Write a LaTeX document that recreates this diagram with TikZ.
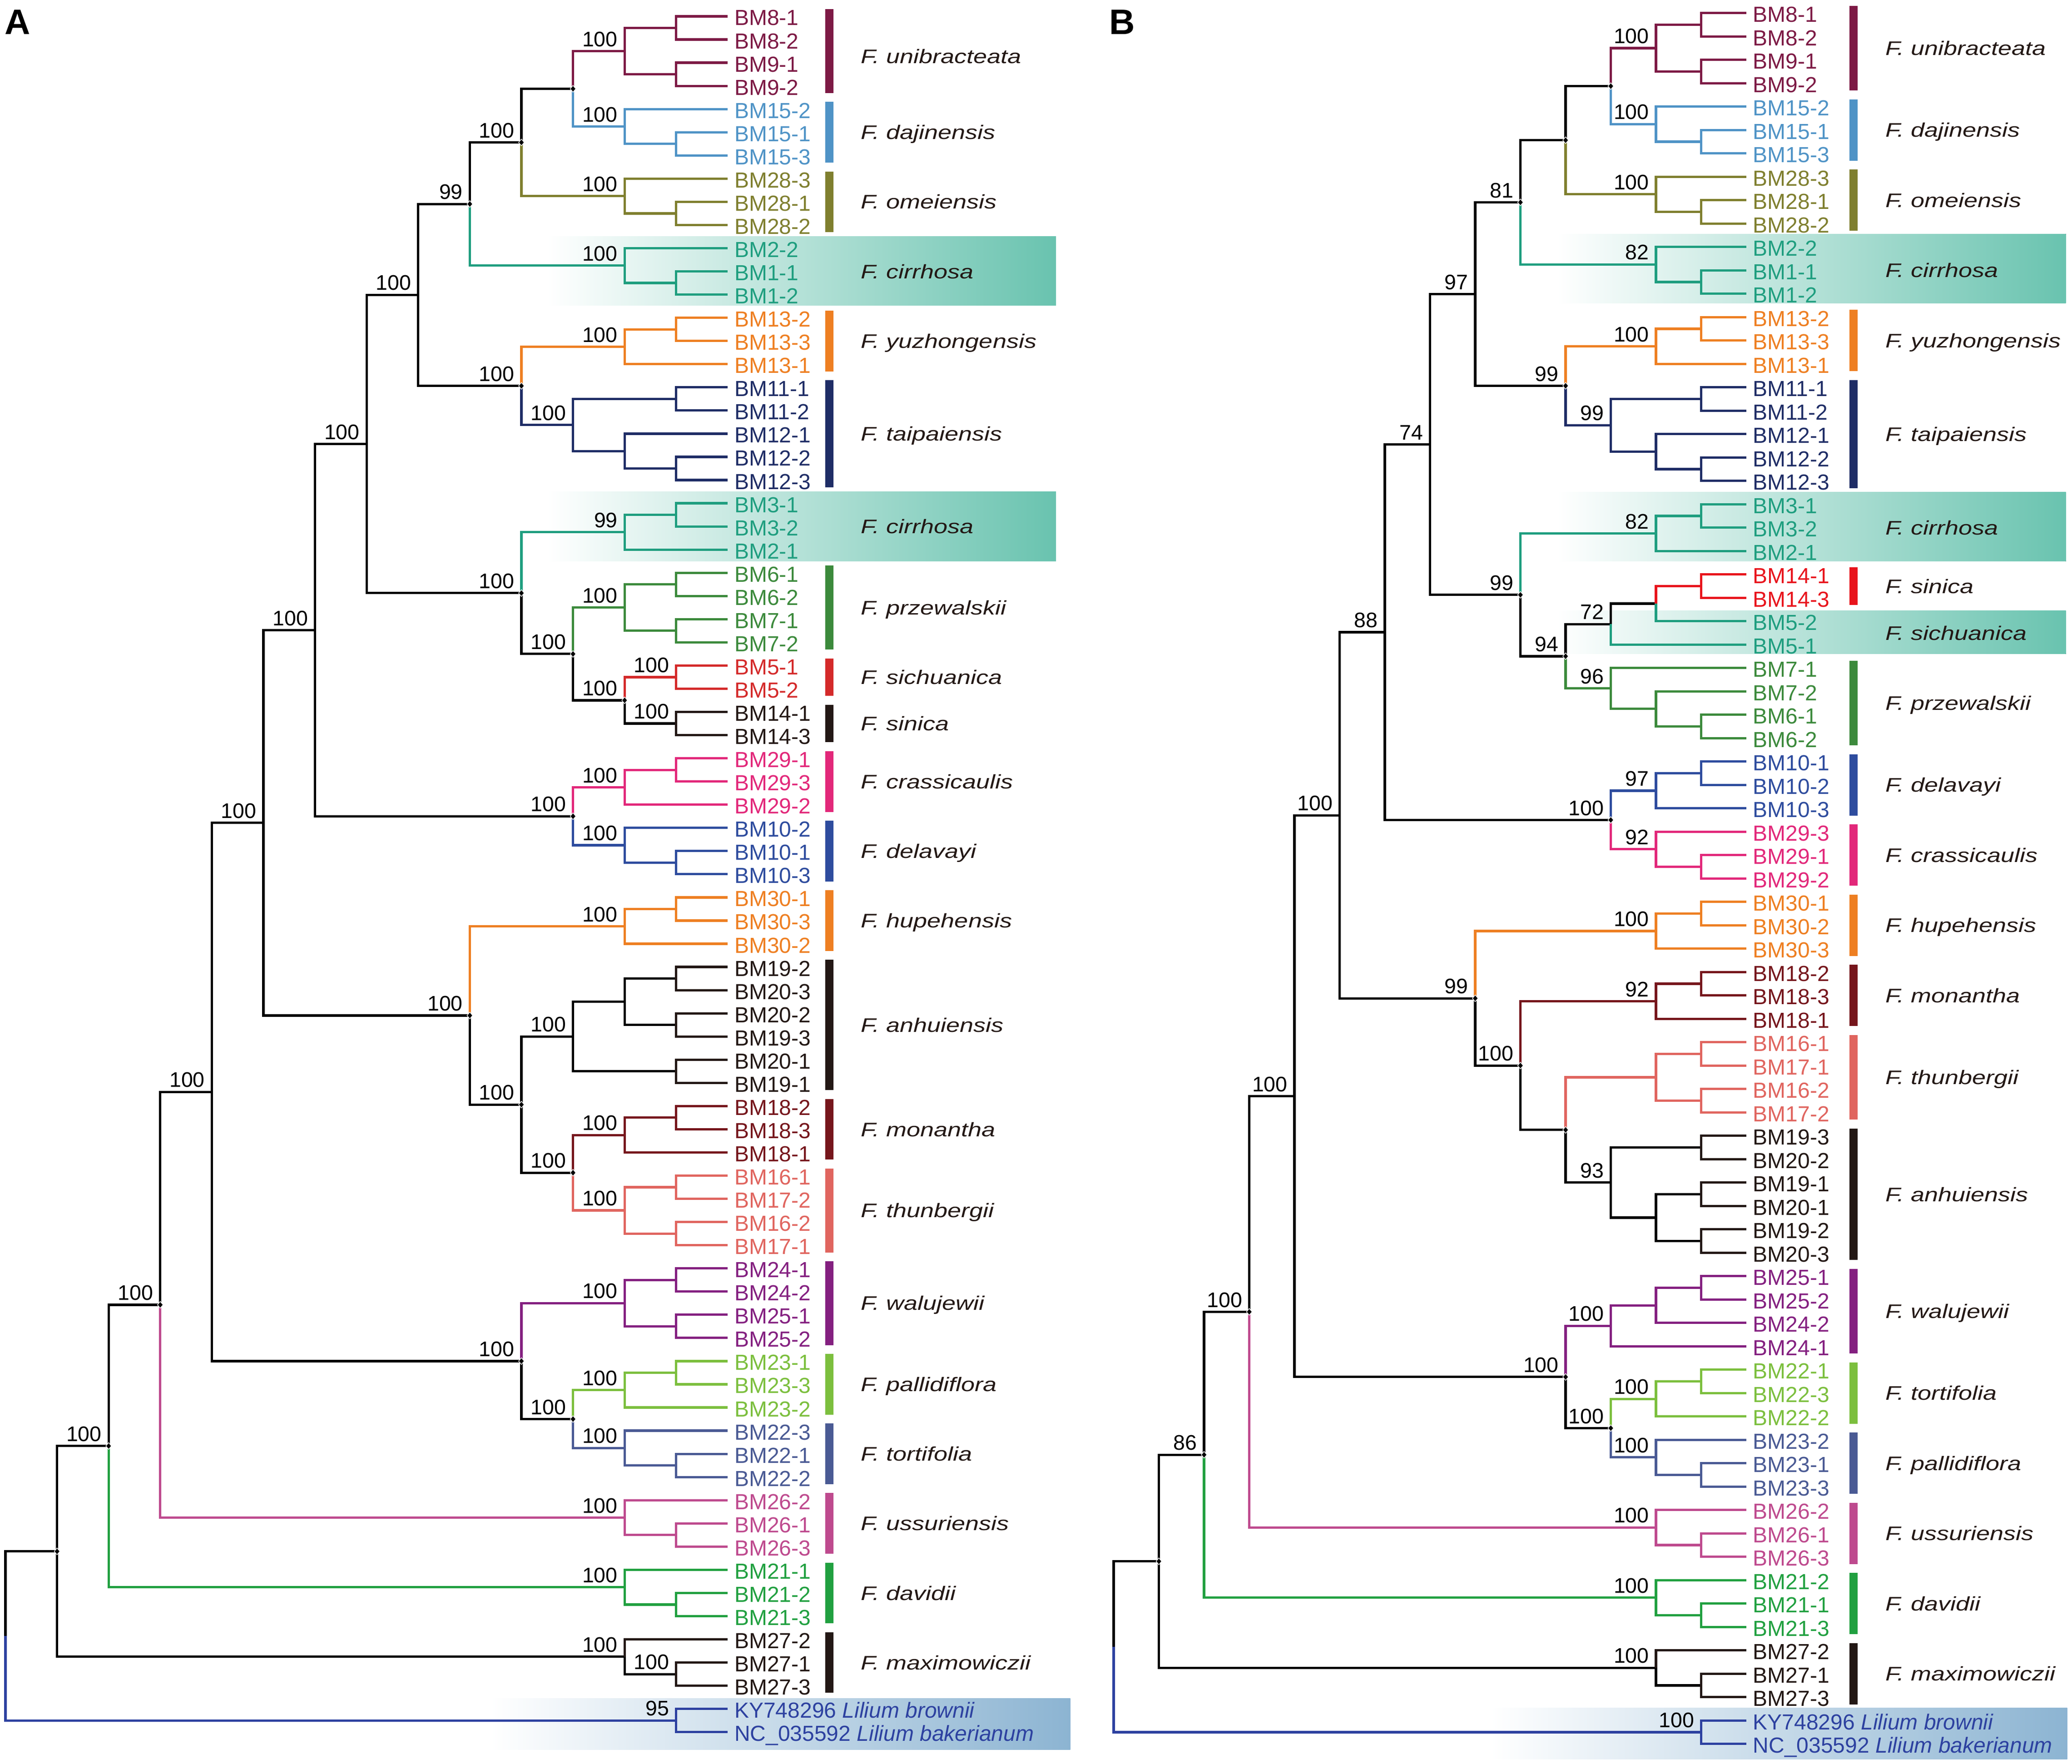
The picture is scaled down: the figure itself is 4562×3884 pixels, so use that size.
\documentclass[tikz,border=0pt]{standalone}
\usepackage{fontspec}
\setmainfont{Liberation Sans}
\newfontfamily\leaffont{Liberation Sans}
\newfontfamily\spfont{Liberation Sans}[FakeStretch=1.25]
\newfontfamily\bsfont{Liberation Sans}
\usetikzlibrary{shapes.geometric}
\definecolor{cUni}{HTML}{7D1A45}
\definecolor{cDaj}{HTML}{4F93C6}
\definecolor{cOme}{HTML}{7F7F2F}
\definecolor{cCir}{HTML}{1F9E7F}
\definecolor{cOra}{HTML}{EE7F22}
\definecolor{cNav}{HTML}{1F2D66}
\definecolor{cPrz}{HTML}{3C8A3C}
\definecolor{cRedA}{HTML}{D42A2A}
\definecolor{cRedB}{HTML}{E8141C}
\definecolor{cBlk}{HTML}{231815}
\definecolor{cCra}{HTML}{E2287A}
\definecolor{cDel}{HTML}{2E4C9E}
\definecolor{cMon}{HTML}{76161C}
\definecolor{cThu}{HTML}{E0655F}
\definecolor{cWal}{HTML}{842080}
\definecolor{cLgr}{HTML}{7CBF3E}
\definecolor{cSla}{HTML}{4A5A94}
\definecolor{cUss}{HTML}{BE4A8E}
\definecolor{cDav}{HTML}{21A040}
\definecolor{cLil}{HTML}{2D41A0}
\definecolor{bandT}{HTML}{69C3AF}
\definecolor{bandL}{HTML}{8CB4D2}
\tikzset{
  br/.style={line width=1.3pt},
  leaflab/.style={anchor=base west, inner sep=0pt, xshift=3.5pt, yshift=-5pt,
    font=\leaffont\fontsize{12}{13}\selectfont},
  bs/.style={anchor=base east, inner sep=0pt, xshift=-3.7pt, yshift=2.6pt,
    font=\bsfont\fontsize{11.6}{13}\selectfont, text=black},
  spname/.style={anchor=base west, inner sep=0pt, yshift=-3.9pt,
    font=\spfont\itshape\fontsize{10.8}{13}\selectfont, text=cBlk},
  sbar/.style={line width=4.35pt},
  mk/.style={diamond, fill=black, draw=white, line width=0.3pt, inner sep=0pt,
    minimum width=3.2pt, minimum height=3.8pt},
  plab/.style={anchor=base west, inner sep=0pt, font=\bfseries\fontsize{19.5}{20}\selectfont}
}
\newcommand\tNd[5]{\coordinate (#1) at (#2,#3); \draw[br,#5] (#4) |- (#1);}
\newcommand\tLf[5]{\coordinate (#1) at (14,#2); \draw[br,#4] (#3) |- (#1);
  \node[leaflab,text=#4] (#1t) at (#1) {#5};}
\newcommand\tBs[2]{\node[bs] (#1bs) at (#1) {#2};}
\newcommand\tMk[1]{\node[mk] (#1mk) at (#1) {};}
\newcommand\SnA[3]{\node[spname] (#1) at (16.576,#2) {#3};}
\newcommand\SnB[3]{\node[spname] (#1) at (17.075,#2) {#3};}
\newcommand\SbA[3]{\draw[sbar,#3] (15.968,{#1-0.31}) -- (15.968,{#2+0.31});}
\newcommand\SbB[3]{\draw[sbar,#3] (16.372,{#1-0.31}) -- (16.372,{#2+0.31});}
\begin{document}
\begin{tikzpicture}[x=0.25pt,y=-0.25pt]
\fill[white] (0,0) rectangle (4562,3884);
\useasboundingbox (0,0) rectangle (4562,3884);
\node[plab] (panelA) at (10,76) {A};
\node[plab] (panelB) at (2442,76) {B};
%% ================= TREE A =================
\begin{scope}[shift={(3pt,-9pt)}, x=28.4pt, y=-12.7625pt]
\fill[left color=white, right color=bandT] (10.51,9.5) rectangle (20.36,12.47);
\fill[left color=white, right color=bandT] (10.51,20.5) rectangle (20.36,23.5);
\fill[left color=white, right color=bandL] (9.4,72.55) rectangle (20.64,74.75);
\coordinate (Aroot) at (0,69.8526);
\tNd{An43}{1}{66.2052}{Aroot}{black}
\tNd{Alil}{13}{73.5}{Aroot}{cLil}
\tLf{Al73}{73}{Alil}{cLil}{KY748296 \textit{Lilium brownii}}
\tLf{Al74}{74}{Alil}{cLil}{NC\_035592 \textit{Lilium bakerianum}}
\tNd{An82}{2}{61.6604}{An43}{black}
\tNd{Amax}{12}{70.75}{An43}{black}
\tLf{Al70}{70}{Amax}{cBlk}{BM27-2}
\tNd{Amx1}{13}{71.5}{Amax}{black}
\tLf{Al71}{71}{Amx1}{cBlk}{BM27-1}
\tLf{Al72}{72}{Amx1}{cBlk}{BM27-3}
\tNd{An121}{3}{55.5708}{An82}{black}
\tNd{Adav}{12}{67.75}{An82}{cDav}
\tLf{Al67}{67}{Adav}{cDav}{BM21-1}
\tNd{Adv1}{13}{68.5}{Adav}{cDav}
\tLf{Al68}{68}{Adv1}{cDav}{BM21-2}
\tLf{Al69}{69}{Adv1}{cDav}{BM21-3}
\tNd{An160}{4}{46.3916}{An121}{black}
\tNd{Auss}{12}{64.75}{An121}{cUss}
\tLf{Al64}{64}{Auss}{cUss}{BM26-2}
\tNd{Au1}{13}{65.5}{Auss}{cUss}
\tLf{Al65}{65}{Au1}{cUss}{BM26-1}
\tLf{Al66}{66}{Au1}{cUss}{BM26-3}
\tNd{An199}{5}{34.7832}{An160}{black}
\tNd{Awpt}{10}{58}{An160}{black}
\tNd{Awal}{12}{55.5}{Awpt}{cWal}
\tNd{Aw1}{13}{54.5}{Awal}{cWal}
\tLf{Al54}{54}{Aw1}{cWal}{BM24-1}
\tLf{Al55}{55}{Aw1}{cWal}{BM24-2}
\tNd{Aw2}{13}{56.5}{Awal}{cWal}
\tLf{Al56}{56}{Aw2}{cWal}{BM25-1}
\tLf{Al57}{57}{Aw2}{cWal}{BM25-2}
\tNd{Apt}{11}{60.5}{Awpt}{black}
\tNd{Apal}{12}{59.25}{Apt}{cLgr}
\tNd{Apa1}{13}{58.5}{Apal}{cLgr}
\tLf{Al58}{58}{Apa1}{cLgr}{BM23-1}
\tLf{Al59}{59}{Apa1}{cLgr}{BM23-3}
\tLf{Al60}{60}{Apal}{cLgr}{BM23-2}
\tNd{Ator}{12}{61.75}{Apt}{cSla}
\tLf{Al61}{61}{Ator}{cSla}{BM22-3}
\tNd{Ato1}{13}{62.5}{Ator}{cSla}
\tLf{Al62}{62}{Ato1}{cSla}{BM22-1}
\tLf{Al63}{63}{Ato1}{cSla}{BM22-2}
\tNd{An238}{6}{26.4727}{An199}{black}
\tNd{Ahamt}{9}{43.09375}{An199}{black}
\tNd{Ahup}{12}{39.25}{Ahamt}{cOra}
\tNd{Ah1}{13}{38.5}{Ahup}{cOra}
\tLf{Al38}{38}{Ah1}{cOra}{BM30-1}
\tLf{Al39}{39}{Ah1}{cOra}{BM30-3}
\tLf{Al40}{40}{Ahup}{cOra}{BM30-2}
\tNd{Aamt}{10}{46.9375}{Ahamt}{black}
\tNd{Aanh}{11}{44}{Aamt}{black}
\tNd{Aan3}{12}{42.5}{Aanh}{black}
\tNd{Aan1}{13}{41.5}{Aan3}{black}
\tLf{Al41}{41}{Aan1}{cBlk}{BM19-2}
\tLf{Al42}{42}{Aan1}{cBlk}{BM20-3}
\tNd{Aan2}{13}{43.5}{Aan3}{black}
\tLf{Al43}{43}{Aan2}{cBlk}{BM20-2}
\tLf{Al44}{44}{Aan2}{cBlk}{BM19-3}
\tNd{Aan4}{13}{45.5}{Aanh}{black}
\tLf{Al45}{45}{Aan4}{cBlk}{BM20-1}
\tLf{Al46}{46}{Aan4}{cBlk}{BM19-1}
\tNd{Amt}{11}{49.875}{Aamt}{black}
\tNd{Amon}{12}{48.25}{Amt}{cMon}
\tNd{Am1}{13}{47.5}{Amon}{cMon}
\tLf{Al47}{47}{Am1}{cMon}{BM18-2}
\tLf{Al48}{48}{Am1}{cMon}{BM18-3}
\tLf{Al49}{49}{Amon}{cMon}{BM18-1}
\tNd{Athu}{12}{51.5}{Amt}{cThu}
\tNd{Ath1}{13}{50.5}{Athu}{cThu}
\tLf{Al50}{50}{Ath1}{cThu}{BM16-1}
\tLf{Al51}{51}{Ath1}{cThu}{BM17-2}
\tNd{Ath2}{13}{52.5}{Athu}{cThu}
\tLf{Al52}{52}{Ath2}{cThu}{BM16-2}
\tLf{Al53}{53}{Ath2}{cThu}{BM17-1}
\tNd{An277}{7}{18.4453}{An238}{black}
\tNd{Acd}{11}{34.5}{An238}{black}
\tNd{Acra}{12}{33.25}{Acd}{cCra}
\tNd{Acr1}{13}{32.5}{Acra}{cCra}
\tLf{Al32}{32}{Acr1}{cCra}{BM29-1}
\tLf{Al33}{33}{Acr1}{cCra}{BM29-3}
\tLf{Al34}{34}{Acra}{cCra}{BM29-2}
\tNd{Adel}{12}{35.75}{Acd}{cDel}
\tLf{Al35}{35}{Adel}{cDel}{BM10-2}
\tNd{Ade1}{13}{36.5}{Adel}{cDel}
\tLf{Al36}{36}{Ade1}{cDel}{BM10-1}
\tLf{Al37}{37}{Ade1}{cDel}{BM10-3}
\tNd{An316}{8}{12.015625}{An277}{black}
\tNd{Acps}{10}{24.875}{An277}{black}
\tNd{Acir2}{12}{22.25}{Acps}{cCir}
\tNd{Ac2a}{13}{21.5}{Acir2}{cCir}
\tLf{Al21}{21}{Ac2a}{cCir}{BM3-1}
\tLf{Al22}{22}{Ac2a}{cCir}{BM3-2}
\tLf{Al23}{23}{Acir2}{cCir}{BM2-1}
\tNd{Apss}{11}{27.5}{Acps}{black}
\tNd{Aprz}{12}{25.5}{Apss}{cPrz}
\tNd{Ap1}{13}{24.5}{Aprz}{cPrz}
\tLf{Al24}{24}{Ap1}{cPrz}{BM6-1}
\tLf{Al25}{25}{Ap1}{cPrz}{BM6-2}
\tNd{Ap2}{13}{26.5}{Aprz}{cPrz}
\tLf{Al26}{26}{Ap2}{cPrz}{BM7-1}
\tLf{Al27}{27}{Ap2}{cPrz}{BM7-2}
\tNd{Ass}{12}{29.5}{Apss}{black}
\tNd{Asic}{13}{28.5}{Ass}{cRedA}
\tLf{Al28}{28}{Asic}{cRedA}{BM5-1}
\tLf{Al29}{29}{Asic}{cRedA}{BM5-2}
\tNd{Asin}{13}{30.5}{Ass}{black}
\tLf{Al30}{30}{Asin}{cBlk}{BM14-1}
\tLf{Al31}{31}{Asin}{cBlk}{BM14-3}
\tNd{An99}{9}{8.09375}{An316}{black}
\tNd{Ayt}{10}{15.9375}{An316}{black}
\tNd{Ayuz}{12}{14.25}{Ayt}{cOra}
\tNd{Ay1}{13}{13.5}{Ayuz}{cOra}
\tLf{Al13}{13}{Ay1}{cOra}{BM13-2}
\tLf{Al14}{14}{Ay1}{cOra}{BM13-3}
\tLf{Al15}{15}{Ayuz}{cOra}{BM13-1}
\tNd{Ataip}{11}{17.625}{Ayt}{cNav}
\tNd{At1}{13}{16.5}{Ataip}{cNav}
\tLf{Al16}{16}{At1}{cNav}{BM11-1}
\tLf{Al17}{17}{At1}{cNav}{BM11-2}
\tNd{At3}{12}{18.75}{Ataip}{cNav}
\tLf{Al18}{18}{At3}{cNav}{BM12-1}
\tNd{At2}{13}{19.5}{At3}{cNav}
\tLf{Al19}{19}{At2}{cNav}{BM12-2}
\tLf{Al20}{20}{At2}{cNav}{BM12-3}
\tNd{Audo}{10}{5.4375}{An99}{black}
\tNd{Acir1}{12}{10.75}{An99}{cCir}
\tLf{Al10}{10}{Acir1}{cCir}{BM2-2}
\tNd{Ac1}{13}{11.5}{Acir1}{cCir}
\tLf{Al11}{11}{Ac1}{cCir}{BM1-1}
\tLf{Al12}{12}{Ac1}{cCir}{BM1-2}
\tNd{Aud}{11}{3.125}{Audo}{black}
\tNd{Aome}{12}{7.75}{Audo}{cOme}
\tLf{Al7}{7}{Aome}{cOme}{BM28-3}
\tNd{Ao1}{13}{8.5}{Aome}{cOme}
\tLf{Al8}{8}{Ao1}{cOme}{BM28-1}
\tLf{Al9}{9}{Ao1}{cOme}{BM28-2}
\tNd{Aunib}{12}{1.5}{Aud}{cUni}
\tNd{Aa1}{13}{0.5}{Aunib}{cUni}
\tLf{Al0}{0}{Aa1}{cUni}{BM8-1}
\tLf{Al1}{1}{Aa1}{cUni}{BM8-2}
\tNd{Aa2}{13}{2.5}{Aunib}{cUni}
\tLf{Al2}{2}{Aa2}{cUni}{BM9-1}
\tLf{Al3}{3}{Aa2}{cUni}{BM9-2}
\tNd{Adaj}{12}{4.75}{Aud}{cDaj}
\tLf{Al4}{4}{Adaj}{cDaj}{BM15-2}
\tNd{Ad1}{13}{5.5}{Adaj}{cDaj}
\tLf{Al5}{5}{Ad1}{cDaj}{BM15-1}
\tLf{Al6}{6}{Ad1}{cDaj}{BM15-3}
% species bars
\SbA{0}{3}{cUni}\SbA{4}{6}{cDaj}\SbA{7}{9}{cOme}\SbA{13}{15}{cOra}\SbA{16}{20}{cNav}
\SbA{24}{27}{cPrz}\SbA{28}{29}{cRedA}\SbA{30}{31}{cBlk}\SbA{32}{34}{cCra}\SbA{35}{37}{cDel}
\SbA{38}{40}{cOra}\SbA{41}{46}{cBlk}\SbA{47}{49}{cMon}\SbA{50}{53}{cThu}\SbA{54}{57}{cWal}
\SbA{58}{60}{cLgr}\SbA{61}{63}{cSla}\SbA{64}{66}{cUss}\SbA{67}{69}{cDav}\SbA{70}{72}{cBlk}
% species names
\SnA{AsUni}{1.72}{F. unibracteata}
\SnA{AsDaj}{5}{F. dajinensis}
\SnA{AsOme}{8}{F. omeiensis}
\SnA{AsCir}{11}{F. cirrhosa}
\SnA{AsYuz}{14}{F. yuzhongensis}
\SnA{AsTai}{18}{F. taipaiensis}
\SnA{AsCirb}{22}{F. cirrhosa}
\SnA{AsPrz}{25.5}{F. przewalskii}
\SnA{AsSic}{28.5}{F. sichuanica}
\SnA{AsSin}{30.5}{F. sinica}
\SnA{AsCra}{33}{F. crassicaulis}
\SnA{AsDel}{36}{F. delavayi}
\SnA{AsHup}{39}{F. hupehensis}
\SnA{AsAnh}{43.5}{F. anhuiensis}
\SnA{AsMon}{48}{F. monantha}
\SnA{AsThu}{51.5}{F. thunbergii}
\SnA{AsWal}{55.5}{F. walujewii}
\SnA{AsPal}{59}{F. pallidiflora}
\SnA{AsTor}{62}{F. tortifolia}
\SnA{AsUss}{65}{F. ussuriensis}
\SnA{AsDav}{68}{F. davidii}
\SnA{AsMax}{71}{F. maximowiczii}
% markers
\tMk{Aud}\tMk{Audo}\tMk{An99}\tMk{Ayt}\tMk{Ass}\tMk{Apss}\tMk{Acps}\tMk{Acd}
\tMk{Ahamt}\tMk{Aamt}\tMk{Amt}\tMk{Apt}\tMk{Awpt}\tMk{An121}\tMk{An82}\tMk{An43}
% bootstrap
\tBs{Aunib}{100}\tBs{Adaj}{100}\tBs{Aome}{100}\tBs{Audo}{100}\tBs{Acir1}{100}
\tBs{An99}{99}\tBs{Ayuz}{100}\tBs{Ataip}{100}\tBs{Ayt}{100}\tBs{An316}{100}
\tBs{Acir2}{99}\tBs{Aprz}{100}\tBs{Asic}{100}\tBs{Asin}{100}\tBs{Ass}{100}
\tBs{Apss}{100}\tBs{Acps}{100}\tBs{An277}{100}\tBs{Acra}{100}\tBs{Adel}{100}
\tBs{Acd}{100}\tBs{An238}{100}\tBs{Ahup}{100}\tBs{Aanh}{100}\tBs{Amon}{100}
\tBs{Athu}{100}\tBs{Amt}{100}\tBs{Aamt}{100}\tBs{Ahamt}{100}\tBs{An199}{100}
\tBs{Awal}{100}\tBs{Apal}{100}\tBs{Ator}{100}\tBs{Apt}{100}\tBs{Awpt}{100}
\tBs{An160}{100}\tBs{Auss}{100}\tBs{An121}{100}\tBs{Adav}{100}\tBs{An82}{100}
\tBs{Amax}{100}\tBs{Amx1}{100}\tBs{Alil}{95}
\end{scope}
%% ================= TREE B =================
\begin{scope}[shift={(613pt,-7.175pt)}, x=24.875pt, y=-12.875pt]
\fill[left color=white, right color=bandT] (9.81,9.45) rectangle (21.07,12.4);
\fill[left color=white, right color=bandT] (9.81,20.49) rectangle (21.07,23.44);
\fill[left color=white, right color=bandT] (9.81,25.55) rectangle (21.07,27.4);
\fill[left color=white, right color=bandL] (8.34,72.47) rectangle (21.1,74.65);
\coordinate (Broot) at (0,69.8472);
\tNd{Bn1}{1}{66.1944}{Broot}{black}
\tNd{Blil}{13}{73.5}{Broot}{cLil}
\tLf{Bl73}{73}{Blil}{cLil}{KY748296 \textit{Lilium brownii}}
\tLf{Bl74}{74}{Blil}{cLil}{NC\_035592 \textit{Lilium bakerianum}}
\tNd{Bn2}{2}{61.6389}{Bn1}{black}
\tNd{Bmax}{12}{70.75}{Bn1}{black}
\tLf{Bl70}{70}{Bmax}{cBlk}{BM27-2}
\tNd{Bmx1}{13}{71.5}{Bmax}{black}
\tLf{Bl71}{71}{Bmx1}{cBlk}{BM27-1}
\tLf{Bl72}{72}{Bmx1}{cBlk}{BM27-3}
\tNd{Bn3}{3}{55.5278}{Bn2}{black}
\tNd{Bdav}{12}{67.75}{Bn2}{cDav}
\tLf{Bl67}{67}{Bdav}{cDav}{BM21-2}
\tNd{Bdv1}{13}{68.5}{Bdav}{cDav}
\tLf{Bl68}{68}{Bdv1}{cDav}{BM21-1}
\tLf{Bl69}{69}{Bdv1}{cDav}{BM21-3}
\tNd{Bn4}{4}{46.3057}{Bn3}{black}
\tNd{Buss}{12}{64.75}{Bn3}{cUss}
\tLf{Bl64}{64}{Buss}{cUss}{BM26-2}
\tNd{Bu1}{13}{65.5}{Buss}{cUss}
\tLf{Bl65}{65}{Bu1}{cUss}{BM26-1}
\tLf{Bl66}{66}{Bu1}{cUss}{BM26-3}
\tNd{Bn5}{5}{34.2988}{Bn4}{black}
\tNd{Bwpt}{10}{58.3125}{Bn4}{black}
\tNd{Bwal}{11}{56.125}{Bwpt}{cWal}
\tNd{Bw2}{12}{55.25}{Bwal}{cWal}
\tNd{Bw1}{13}{54.5}{Bw2}{cWal}
\tLf{Bl54}{54}{Bw1}{cWal}{BM25-1}
\tLf{Bl55}{55}{Bw1}{cWal}{BM25-2}
\tLf{Bl56}{56}{Bw2}{cWal}{BM24-2}
\tLf{Bl57}{57}{Bwal}{cWal}{BM24-1}
\tNd{Bpt}{11}{60.5}{Bwpt}{black}
\tNd{Btor}{12}{59.25}{Bpt}{cLgr}
\tNd{Bto1}{13}{58.5}{Btor}{cLgr}
\tLf{Bl58}{58}{Bto1}{cLgr}{BM22-1}
\tLf{Bl59}{59}{Bto1}{cLgr}{BM22-3}
\tLf{Bl60}{60}{Btor}{cLgr}{BM22-2}
\tNd{Bpal}{12}{61.75}{Bpt}{cSla}
\tLf{Bl61}{61}{Bpal}{cSla}{BM23-2}
\tNd{Bpa1}{13}{62.5}{Bpal}{cSla}
\tLf{Bl62}{62}{Bpa1}{cSla}{BM23-1}
\tLf{Bl63}{63}{Bpa1}{cSla}{BM23-3}
\tNd{Bn88}{6}{26.4727}{Bn5}{black}
\tNd{Bhm}{8}{42.125}{Bn5}{black}
\tNd{Bhup}{12}{39.25}{Bhm}{cOra}
\tNd{Bh1}{13}{38.5}{Bhup}{cOra}
\tLf{Bl38}{38}{Bh1}{cOra}{BM30-1}
\tLf{Bl39}{39}{Bh1}{cOra}{BM30-2}
\tLf{Bl40}{40}{Bhup}{cOra}{BM30-3}
\tNd{Bmta}{9}{45}{Bhm}{black}
\tNd{Bmon}{12}{42.25}{Bmta}{cMon}
\tNd{Bm1}{13}{41.5}{Bmon}{cMon}
\tLf{Bl41}{41}{Bm1}{cMon}{BM18-2}
\tLf{Bl42}{42}{Bm1}{cMon}{BM18-3}
\tLf{Bl43}{43}{Bmon}{cMon}{BM18-1}
\tNd{Btha}{10}{47.75}{Bmta}{black}
\tNd{Bthu}{12}{45.5}{Btha}{cThu}
\tNd{Bth1}{13}{44.5}{Bthu}{cThu}
\tLf{Bl44}{44}{Bth1}{cThu}{BM16-1}
\tLf{Bl45}{45}{Bth1}{cThu}{BM17-1}
\tNd{Bth2}{13}{46.5}{Bthu}{cThu}
\tLf{Bl46}{46}{Bth2}{cThu}{BM16-2}
\tLf{Bl47}{47}{Bth2}{cThu}{BM17-2}
\tNd{Banh}{11}{50}{Btha}{black}
\tNd{Ban1}{13}{48.5}{Banh}{black}
\tLf{Bl48}{48}{Ban1}{cBlk}{BM19-3}
\tLf{Bl49}{49}{Ban1}{cBlk}{BM20-2}
\tNd{Ban23}{12}{51.5}{Banh}{black}
\tNd{Ban2}{13}{50.5}{Ban23}{black}
\tLf{Bl50}{50}{Ban2}{cBlk}{BM19-1}
\tLf{Bl51}{51}{Ban2}{cBlk}{BM20-1}
\tNd{Ban3}{13}{52.5}{Ban23}{black}
\tLf{Bl52}{52}{Ban3}{cBlk}{BM19-2}
\tLf{Bl53}{53}{Ban3}{cBlk}{BM20-3}
\tNd{Bn74}{7}{18.4453}{Bn88}{black}
\tNd{Bdc}{11}{34.5}{Bn88}{black}
\tNd{Bdel}{12}{33.25}{Bdc}{cDel}
\tNd{Bde1}{13}{32.5}{Bdel}{cDel}
\tLf{Bl32}{32}{Bde1}{cDel}{BM10-1}
\tLf{Bl33}{33}{Bde1}{cDel}{BM10-2}
\tLf{Bl34}{34}{Bdel}{cDel}{BM10-3}
\tNd{Bcra}{12}{35.75}{Bdc}{cCra}
\tLf{Bl35}{35}{Bcra}{cCra}{BM29-3}
\tNd{Bcr1}{13}{36.5}{Bcra}{cCra}
\tLf{Bl36}{36}{Bcr1}{cCra}{BM29-1}
\tLf{Bl37}{37}{Bcr1}{cCra}{BM29-2}
\tNd{Bn97}{8}{12.015625}{Bn74}{black}
\tNd{Bn99}{9}{24.875}{Bn74}{black}
\tNd{Bcir2}{12}{22.25}{Bn99}{cCir}
\tNd{Bc2a}{13}{21.5}{Bcir2}{cCir}
\tLf{Bl21}{21}{Bc2a}{cCir}{BM3-1}
\tLf{Bl22}{22}{Bc2a}{cCir}{BM3-2}
\tLf{Bl23}{23}{Bcir2}{cCir}{BM2-1}
\tNd{Bn94}{10}{27.5}{Bn99}{black}
\tNd{Bsx2}{11}{26.125}{Bn94}{black}
\tNd{Bsx}{12}{25.25}{Bsx2}{black}
\tNd{Bsin}{13}{24.5}{Bsx}{cRedB}
\tLf{Bl24}{24}{Bsin}{cRedB}{BM14-1}
\tLf{Bl25}{25}{Bsin}{cRedB}{BM14-3}
\tLf{Bl26}{26}{Bsx}{cCir}{BM5-2}
\tLf{Bl27}{27}{Bsx2}{cCir}{BM5-1}
\tNd{Bprz}{11}{28.875}{Bn94}{cPrz}
\tLf{Bl28}{28}{Bprz}{cPrz}{BM7-1}
\tNd{Bp2}{12}{29.75}{Bprz}{cPrz}
\tLf{Bl29}{29}{Bp2}{cPrz}{BM7-2}
\tNd{Bp1}{13}{30.5}{Bp2}{cPrz}
\tLf{Bl30}{30}{Bp1}{cPrz}{BM6-1}
\tLf{Bl31}{31}{Bp1}{cPrz}{BM6-2}
\tNd{Bn81}{9}{8.09375}{Bn97}{black}
\tNd{Byt}{10}{15.9375}{Bn97}{black}
\tNd{Byuz}{12}{14.25}{Byt}{cOra}
\tNd{By1}{13}{13.5}{Byuz}{cOra}
\tLf{Bl13}{13}{By1}{cOra}{BM13-2}
\tLf{Bl14}{14}{By1}{cOra}{BM13-3}
\tLf{Bl15}{15}{Byuz}{cOra}{BM13-1}
\tNd{Btaip}{11}{17.625}{Byt}{cNav}
\tNd{Bt1}{13}{16.5}{Btaip}{cNav}
\tLf{Bl16}{16}{Bt1}{cNav}{BM11-1}
\tLf{Bl17}{17}{Bt1}{cNav}{BM11-2}
\tNd{Bt3}{12}{18.75}{Btaip}{cNav}
\tLf{Bl18}{18}{Bt3}{cNav}{BM12-1}
\tNd{Bt2}{13}{19.5}{Bt3}{cNav}
\tLf{Bl19}{19}{Bt2}{cNav}{BM12-2}
\tLf{Bl20}{20}{Bt2}{cNav}{BM12-3}
\tNd{Budo}{10}{5.4375}{Bn81}{black}
\tNd{Bcir1}{12}{10.75}{Bn81}{cCir}
\tLf{Bl10}{10}{Bcir1}{cCir}{BM2-2}
\tNd{Bc1}{13}{11.5}{Bcir1}{cCir}
\tLf{Bl11}{11}{Bc1}{cCir}{BM1-1}
\tLf{Bl12}{12}{Bc1}{cCir}{BM1-2}
\tNd{Bud}{11}{3.125}{Budo}{black}
\tNd{Bome}{12}{7.75}{Budo}{cOme}
\tLf{Bl7}{7}{Bome}{cOme}{BM28-3}
\tNd{Bo1}{13}{8.5}{Bome}{cOme}
\tLf{Bl8}{8}{Bo1}{cOme}{BM28-1}
\tLf{Bl9}{9}{Bo1}{cOme}{BM28-2}
\tNd{Bunib}{12}{1.5}{Bud}{cUni}
\tNd{Ba1}{13}{0.5}{Bunib}{cUni}
\tLf{Bl0}{0}{Ba1}{cUni}{BM8-1}
\tLf{Bl1}{1}{Ba1}{cUni}{BM8-2}
\tNd{Ba2}{13}{2.5}{Bunib}{cUni}
\tLf{Bl2}{2}{Ba2}{cUni}{BM9-1}
\tLf{Bl3}{3}{Ba2}{cUni}{BM9-2}
\tNd{Bdaj}{12}{4.75}{Bud}{cDaj}
\tLf{Bl4}{4}{Bdaj}{cDaj}{BM15-2}
\tNd{Bd1}{13}{5.5}{Bdaj}{cDaj}
\tLf{Bl5}{5}{Bd1}{cDaj}{BM15-1}
\tLf{Bl6}{6}{Bd1}{cDaj}{BM15-3}
% species bars
\SbB{0}{3}{cUni}\SbB{4}{6}{cDaj}\SbB{7}{9}{cOme}\SbB{13}{15}{cOra}\SbB{16}{20}{cNav}
\SbB{24}{25}{cRedB}\SbB{28}{31}{cPrz}\SbB{32}{34}{cDel}\SbB{35}{37}{cCra}
\SbB{38}{40}{cOra}\SbB{41}{43}{cMon}\SbB{44}{47}{cThu}\SbB{48}{53}{cBlk}\SbB{54}{57}{cWal}
\SbB{58}{60}{cLgr}\SbB{61}{63}{cSla}\SbB{64}{66}{cUss}\SbB{67}{69}{cDav}\SbB{70}{72}{cBlk}
% species names
\SnB{BsUni}{1.5}{F. unibracteata}
\SnB{BsDaj}{5}{F. dajinensis}
\SnB{BsOme}{8}{F. omeiensis}
\SnB{BsCir}{11}{F. cirrhosa}
\SnB{BsYuz}{14}{F. yuzhongensis}
\SnB{BsTai}{18}{F. taipaiensis}
\SnB{BsCirb}{22}{F. cirrhosa}
\SnB{BsSin}{24.5}{F. sinica}
\SnB{BsSic}{26.5}{F. sichuanica}
\SnB{BsPrz}{29.5}{F. przewalskii}
\SnB{BsDel}{33}{F. delavayi}
\SnB{BsCra}{36}{F. crassicaulis}
\SnB{BsHup}{39}{F. hupehensis}
\SnB{BsMon}{42}{F. monantha}
\SnB{BsThu}{45.5}{F. thunbergii}
\SnB{BsAnh}{50.5}{F. anhuiensis}
\SnB{BsWal}{55.5}{F. walujewii}
\SnB{BsTor}{59}{F. tortifolia}
\SnB{BsPal}{62}{F. pallidiflora}
\SnB{BsUss}{65}{F. ussuriensis}
\SnB{BsDav}{68}{F. davidii}
\SnB{BsMax}{71}{F. maximowiczii}
% markers
\tMk{Bud}\tMk{Budo}\tMk{Bn81}\tMk{Byt}\tMk{Bn99}\tMk{Bn94}\tMk{Bdc}\tMk{Bhm}
\tMk{Bmta}\tMk{Btha}\tMk{Bpt}\tMk{Bwpt}\tMk{Bn3}\tMk{Bn2}\tMk{Bn1}
% bootstrap
\tBs{Bunib}{100}\tBs{Bdaj}{100}\tBs{Bome}{100}\tBs{Bcir1}{82}\tBs{Bn81}{81}
\tBs{Byuz}{100}\tBs{Btaip}{99}\tBs{Byt}{99}\tBs{Bn97}{97}\tBs{Bcir2}{82}
\tBs{Bsx2}{72}\tBs{Bprz}{96}\tBs{Bn94}{94}\tBs{Bn99}{99}\tBs{Bn74}{74}
\tBs{Bdel}{97}\tBs{Bcra}{92}\tBs{Bdc}{100}\tBs{Bn88}{88}\tBs{Bhup}{100}
\tBs{Bmon}{92}\tBs{Banh}{93}\tBs{Bmta}{100}\tBs{Bhm}{99}\tBs{Bn5}{100}
\tBs{Bwal}{100}\tBs{Btor}{100}\tBs{Bpal}{100}\tBs{Bpt}{100}\tBs{Bwpt}{100}
\tBs{Bn4}{100}\tBs{Buss}{100}\tBs{Bn3}{100}\tBs{Bdav}{100}\tBs{Bn2}{86}
\tBs{Bmax}{100}\tBs{Blil}{100}
\end{scope}
\end{tikzpicture}
\end{document}
